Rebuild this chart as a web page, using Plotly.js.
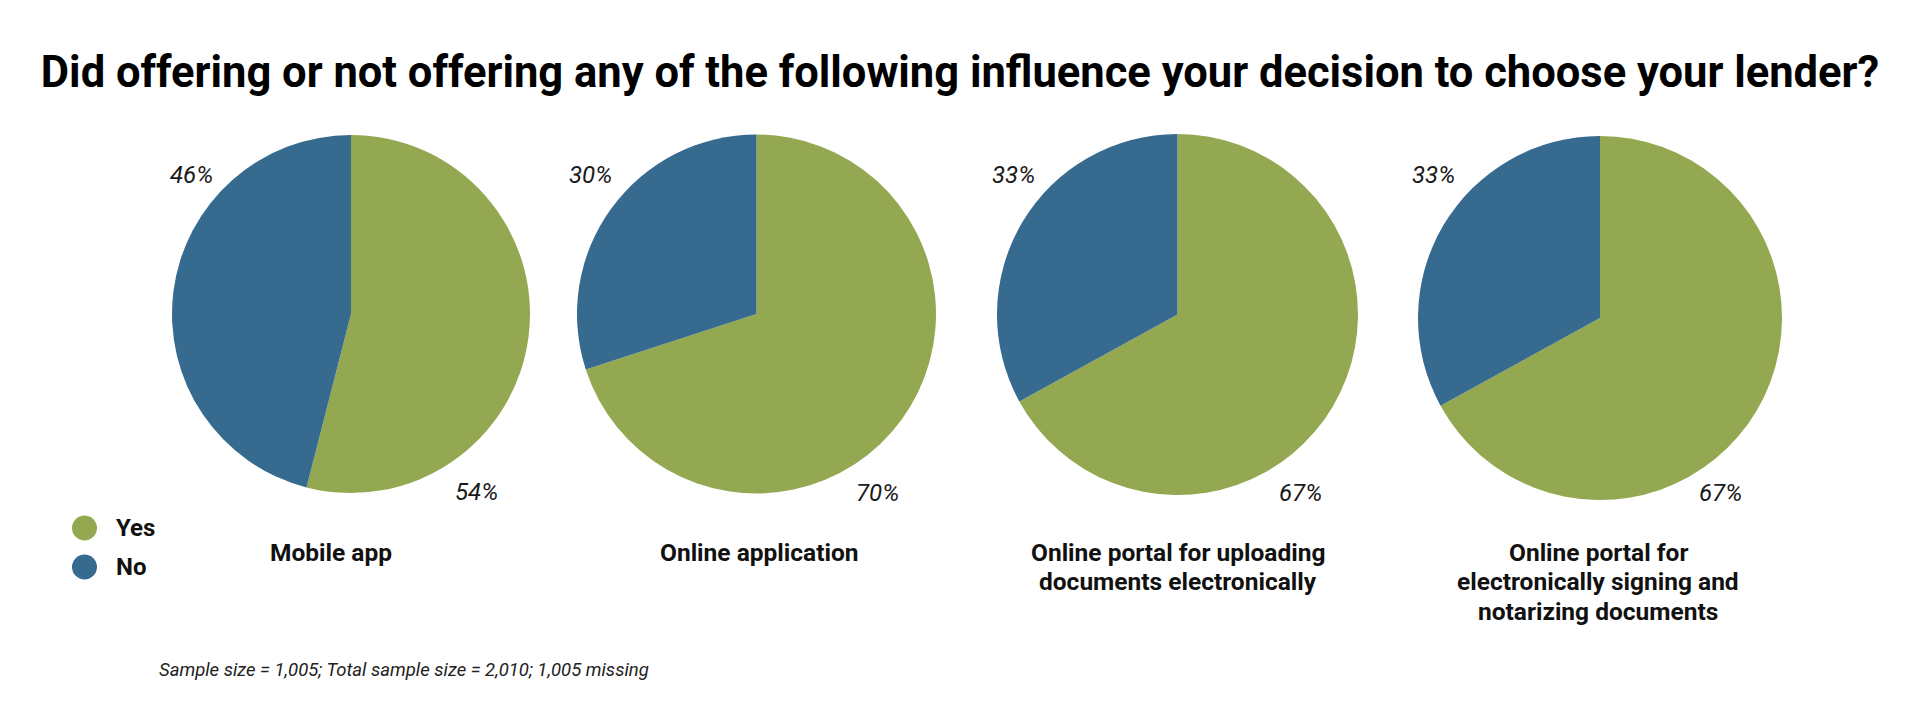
<!DOCTYPE html>
<html>
<head>
<meta charset="utf-8">
<script src="https://cdn.plot.ly/plotly-3.0.1.min.js"></script>
<style>html,body{margin:0;padding:0;background:#fff;}#chart{width:1920px;height:704px;}</style>
</head>
<body>
<div id="chart"></div>
<script>
// ---- data ----
const answers = ["Yes", "No"];
const categories = [
  "Mobile app",
  "Online application",
  "Online portal for uploading<br>documents electronically",
  "Online portal for<br>electronically signing and<br>notarizing documents"
];
const yesValues = [54, 70, 67, 67];
const noValues = [46, 30, 33, 33];
const titleText = "Did offering or not offering any of the following influence your decision to choose your lender?";
const footnote = "Sample size = 1,005; Total sample size = 2,010; 1,005 missing";

// ---- layout helpers ----
const W = 1920, H = 704;
const px = x => x / W;
const py = y => 1 - y / H;
const colors = ["#93A850", "#366A8F"];
const centers = [[351, 314], [756.5, 314], [1177.5, 314.5], [1600, 318]];
const radii = [179, 179.5, 180.5, 182];
const noLabelPos = [[191, 175], [590, 175], [1013, 175], [1433, 175]];
const yesLabelPos = [[476, 492], [877, 493], [1300, 493], [1720, 493]];
const catLabelX = [331, 759, 1178, 1598];
const catLineY0 = 552, catLineGap = 29.5;

const traces = categories.map((c, i) => ({
  type: "pie",
  name: c,
  labels: answers,
  values: [yesValues[i], noValues[i]],
  sort: false,
  direction: "clockwise",
  rotation: 0,
  textinfo: "none",
  hoverinfo: "label+percent",
  showlegend: false,
  marker: {colors: colors, line: {width: 0}},
  domain: {
    x: [px(centers[i][0] - radii[i]), px(centers[i][0] + radii[i])],
    y: [py(centers[i][1] + radii[i]), py(centers[i][1] - radii[i])]
  }
}));

const font = "Roboto, 'Liberation Sans', Arial, sans-serif";
const annotations = [];
categories.forEach((c, i) => {
  annotations.push({
    text: noValues[i] + "%", x: px(noLabelPos[i][0]), y: py(noLabelPos[i][1]),
    xref: "paper", yref: "paper", showarrow: false, xanchor: "center", yanchor: "middle",
    font: {family: font, size: 24, color: "#1a1a1a", style: "italic"}
  });
  annotations.push({
    text: yesValues[i] + "%", x: px(yesLabelPos[i][0]), y: py(yesLabelPos[i][1]),
    xref: "paper", yref: "paper", showarrow: false, xanchor: "center", yanchor: "middle",
    font: {family: font, size: 24, color: "#1a1a1a", style: "italic"}
  });
  c.split("<br>").forEach((line, j) => {
    annotations.push({
      text: "<b>" + line + "</b>", x: px(catLabelX[i]), y: py(catLineY0 + j * catLineGap),
      xref: "paper", yref: "paper", showarrow: false, xanchor: "center", yanchor: "middle",
      font: {family: font, size: 24.5, color: "#111"}
    });
  });
});
// legend text
const legendY = [528, 567];
answers.forEach((a, k) => {
  annotations.push({
    text: "<b>" + a + "</b>", x: px(114), y: py(legendY[k]),
    xref: "paper", yref: "paper", showarrow: false, xanchor: "left", yanchor: "middle",
    font: {family: font, size: 24, color: "#111"}
  });
});
// footnote
annotations.push({
  text: footnote, x: px(157), y: py(670),
  xref: "paper", yref: "paper", showarrow: false, xanchor: "left", yanchor: "middle",
  font: {family: font, size: 18.5, color: "#222", style: "italic"}
});

const shapes = answers.map((a, k) => ({
  type: "circle", xref: "paper", yref: "paper",
  x0: px(84.5 - 12.5), x1: px(84.5 + 12.5),
  y0: py(legendY[k] + 12.5), y1: py(legendY[k] - 12.5),
  fillcolor: colors[k], line: {width: 0}
}));

const layout = {
  width: W, height: H,
  margin: {l: 0, r: 0, t: 0, b: 0},
  paper_bgcolor: "#ffffff",
  title: {
    text: "<b>" + titleText + "</b>",
    x: 0.5, xanchor: "center", y: py(72), yanchor: "middle",
    font: {family: "Roboto, sans-serif", size: 43.5, color: "#000"}
  },
  annotations: annotations,
  shapes: shapes,
  showlegend: false
};

Plotly.newPlot("chart", traces, layout, {displayModeBar: false, staticPlot: true});
</script>
</body>
</html>
